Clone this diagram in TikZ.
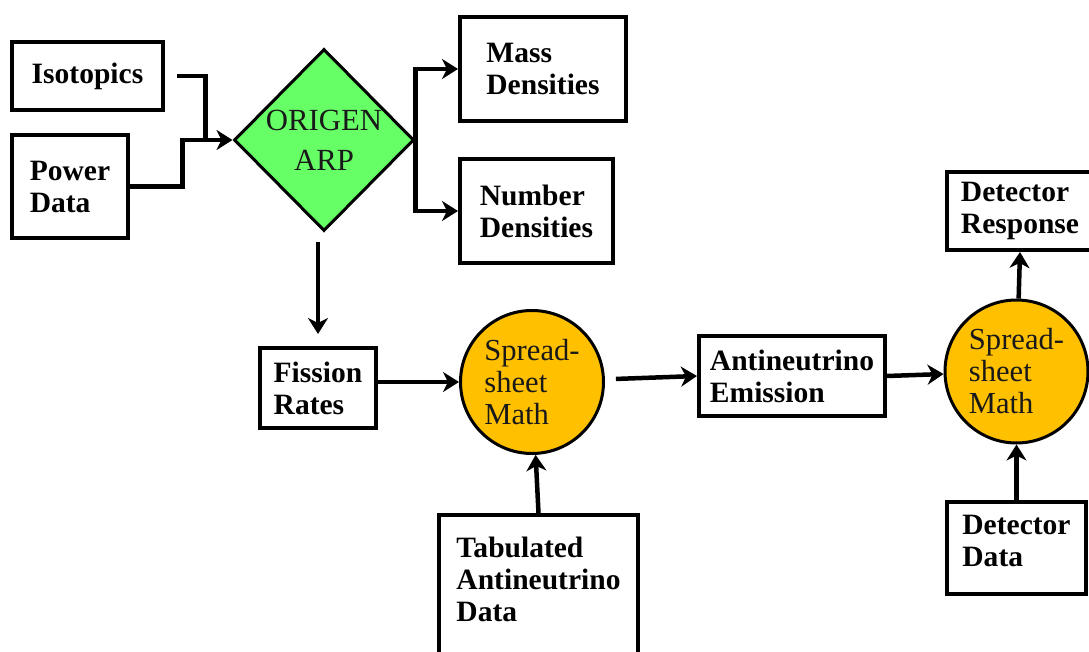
\documentclass[tikz,border=0pt]{standalone}
\usepackage{fontspec}
\setmainfont{LiberationSerif}[
  Extension=.ttf, UprightFont=*-Regular, BoldFont=*-Bold,
  ItalicFont=*-Italic, BoldItalicFont=*-BoldItalic]
\usetikzlibrary{arrows.meta, positioning, calc, shapes.geometric}
\definecolor{origreen}{HTML}{66FF66}
\definecolor{sheetgold}{HTML}{FFC000}
\tikzset{
  blk/.style={
    draw, line width=0.8mm, align=left, inner sep=0pt,
    font=\rmfamily\fontsize{16.8}{18.2}\selectfont\bfseries
  },
  sheet/.style={
    draw, circle, line width=0.6mm, fill=sheetgold,
    minimum size=28.6mm, inner sep=0pt, align=left,
    text=black!90, font=\rmfamily\fontsize{17.4}{18.2}\selectfont
  },
  orig/.style={
    draw, diamond, line width=0.6mm, fill=origreen,
    minimum width=36mm, minimum height=36.4mm, inner sep=0pt,
    align=center, text=black!90, font=\rmfamily\fontsize{17.5}{22.7}\selectfont
  },
  sig/.style={-{Stealth[length=3.2mm,width=4mm,inset=1mm]}, line width=0.9mm},
  line/.style={line width=0.9mm}
}

\begin{document}
\begin{tikzpicture}[x=0.2mm, y=-0.2mm]
  \useasboundingbox (0,0) rectangle (1089,652);

  % inputs and ORIGEN
  \node[blk, minimum width=30.2mm, minimum height=13.6mm] (iso) at (87.5,76) {Isotopics};
  \node[blk, minimum width=23.2mm, minimum height=20.6mm] (pow) at (70,186.5) {Power\\Data};
  \node[orig] (ori) at (324,140) {ORIGEN\\ARP};
  \node[blk, minimum width=33.2mm, minimum height=20.8mm] (mass) at (543,69) {Mass\\Densities};
  \node[blk, minimum width=30.6mm, minimum height=20.8mm] (num) at (536.5,211) {Number\\Densities};

  % fission chain
  \node[blk, minimum width=23.2mm, minimum height=16mm] (fis) at (318,388) {Fission\\Rates};
  \node[sheet] (c1) at (532,382) {Spread-\\sheet\\Math};
  \node[blk, minimum width=37.2mm, minimum height=16mm] (ant) at (792,376) {Antineutrino\\Emission};
  \node[sheet] (c2) at (1016.5,371.5) {Spread-\\sheet\\Math};
  \node[blk, minimum width=29.2mm, minimum height=15.6mm] (dres) at (1020,211) {Detector\\Response};
  \node[blk, anchor=north, minimum width=27.8mm, inner ysep=2.6mm,
        text depth=3mm] (ddat) at (1016.5,500) {Detector\\Data};
  \node[blk, anchor=north, minimum width=39.8mm, inner ysep=4.4mm,
        text depth=20mm] (tab) at (538.5,513) {Tabulated\\Antineutrino\\Data};

  % connectors
  \coordinate[right=2.4mm of iso] (isoout);
  \coordinate (jn)  at ($(ori.west)+(-50,0)$);
  \coordinate (jn2) at ($(ori.west)+(-27,0)$);
  \draw[sig] (pow.east) -| (jn) -- (ori.west);
  \draw[line] (isoout) -| (jn2);

  \draw[sig] (ori.east) |- (mass.west);
  \draw[sig] (ori.east) |- (num.west);
  \draw[sig, shorten <=2mm, shorten >=2.4mm] (fis.north |- ori.south) -- (fis.north);

  \draw[sig] (fis.east |- c1.west) -- (c1.west);
  \draw[sig, shorten <=2.2mm] (c1) -- (ant.west);
  \draw[sig] (tab.north) -- (c1);
  \draw[sig] (ant.east) -- (c2);
  \draw[sig] (c2) -- (dres.south);
  \draw[sig] (ddat.north) -- (c2);
\end{tikzpicture}
\end{document}
